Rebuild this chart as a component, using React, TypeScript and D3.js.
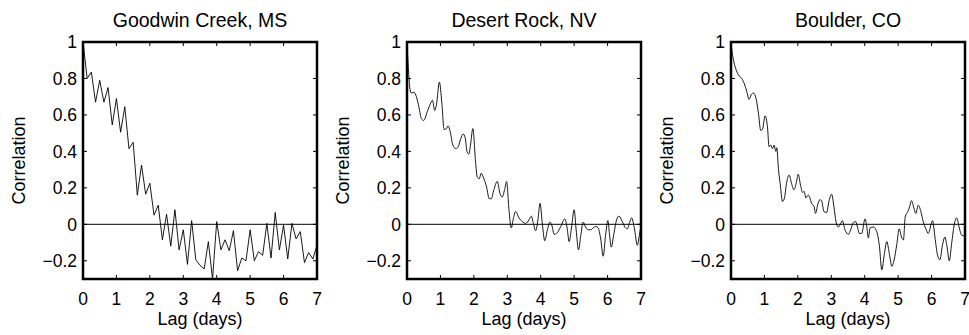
import React from 'react';
import * as d3 from 'd3';

// panel titles
const stationNames = ['Goodwin Creek, MS', 'Desert Rock, NV', 'Boulder, CO'];

// axis ticks
const lagTicks = [0, 1, 2, 3, 4, 5, 6, 7];
const corrTicks = [-0.2, 0, 0.2, 0.4, 0.6, 0.8, 1];
const corrTickLabels = ['\u22120.2', '0', '0.2', '0.4', '0.6', '0.8', '1'];

// [lag (days), correlation]
const goodwinCorr = [
  [0, 1.0], [0.125, 0.8], [0.25, 0.835], [0.375, 0.67], [0.5, 0.79], [0.625, 0.67],
  [0.75, 0.75], [0.875, 0.545], [1.0, 0.69], [1.125, 0.505], [1.25, 0.645], [1.375, 0.415],
  [1.5, 0.45], [1.625, 0.16], [1.75, 0.325], [1.875, 0.165], [2.0, 0.225], [2.125, 0.05],
  [2.25, 0.105], [2.375, -0.085], [2.5, 0.055], [2.625, -0.12], [2.75, 0.08], [2.875, -0.14],
  [3.0, -0.03], [3.125, -0.22], [3.25, 0.02], [3.375, -0.195], [3.5, -0.225], [3.625, -0.245],
  [3.75, -0.095], [3.875, -0.3], [4.0, 0.015], [4.125, -0.14], [4.25, -0.085], [4.375, -0.145],
  [4.5, -0.035], [4.625, -0.255], [4.75, -0.185], [4.875, -0.2], [5.0, -0.03], [5.125, -0.2],
  [5.25, -0.15], [5.375, -0.17], [5.5, 0.005], [5.625, -0.185], [5.75, 0.065], [5.875, -0.14],
  [6.0, -0.005], [6.125, -0.19], [6.25, 0.005], [6.375, -0.08], [6.5, -0.04], [6.625, -0.21],
  [6.75, -0.155], [6.875, -0.19], [7.0, -0.115],
];

const desertRockCorr = [
  [0, 1.0], [0.04, 0.86], [0.09, 0.74], [0.13, 0.72], [0.21, 0.725], [0.28, 0.7],
  [0.36, 0.64], [0.43, 0.58], [0.5, 0.57], [0.61, 0.62], [0.71, 0.665], [0.76, 0.68],
  [0.83, 0.625], [0.88, 0.655], [0.97, 0.78], [1.04, 0.67], [1.11, 0.52], [1.18, 0.525],
  [1.23, 0.54], [1.29, 0.51], [1.37, 0.435], [1.46, 0.415], [1.53, 0.425], [1.61, 0.47],
  [1.68, 0.495], [1.74, 0.475], [1.8, 0.395], [1.85, 0.385], [1.9, 0.435], [1.97, 0.525],
  [2.05, 0.345], [2.1, 0.26], [2.16, 0.25], [2.22, 0.28], [2.3, 0.25], [2.38, 0.205],
  [2.46, 0.14], [2.52, 0.14], [2.6, 0.19], [2.7, 0.235], [2.78, 0.17], [2.85, 0.15],
  [2.92, 0.19], [2.98, 0.235], [3.05, 0.08], [3.12, -0.02], [3.18, 0.03], [3.25, 0.07],
  [3.35, 0.035], [3.45, 0.015], [3.55, 0.005], [3.65, 0.025], [3.72, 0.045], [3.78, 0.005],
  [3.85, -0.035], [3.92, 0.03], [3.98, 0.115], [4.05, 0.0], [4.12, -0.09], [4.2, -0.03],
  [4.27, 0.012], [4.34, -0.01], [4.4, -0.055], [4.5, -0.045], [4.6, -0.012], [4.72, 0.03],
  [4.79, -0.02], [4.85, -0.095], [4.92, -0.02], [5.0, 0.08], [5.06, -0.03], [5.13, -0.14],
  [5.2, -0.06], [5.27, 0.012], [5.34, -0.015], [5.42, -0.03], [5.5, -0.03], [5.57, -0.02],
  [5.64, -0.012], [5.72, -0.02], [5.79, -0.075], [5.87, -0.175], [5.94, -0.06], [6.01, 0.02],
  [6.06, -0.06], [6.11, -0.125], [6.19, -0.05], [6.27, 0.025], [6.34, 0.045], [6.44, 0.015],
  [6.52, -0.015], [6.59, -0.025], [6.66, 0.01], [6.72, 0.035], [6.8, -0.02], [6.89, -0.115],
  [6.95, -0.06], [7.0, -0.01],
];

const boulderCorr = [
  [0, 1.0], [0.03, 0.95], [0.07, 0.905], [0.14, 0.855], [0.22, 0.82], [0.32, 0.8],
  [0.4, 0.77], [0.47, 0.73], [0.54, 0.685], [0.6, 0.71], [0.67, 0.72], [0.75, 0.69],
  [0.82, 0.61], [0.89, 0.515], [0.94, 0.52], [1.02, 0.595], [1.09, 0.535], [1.14, 0.425],
  [1.19, 0.435], [1.24, 0.415], [1.29, 0.435], [1.34, 0.4], [1.37, 0.42], [1.42, 0.3],
  [1.47, 0.225], [1.54, 0.125], [1.6, 0.145], [1.66, 0.225], [1.74, 0.27], [1.81, 0.225],
  [1.88, 0.19], [1.95, 0.225], [2.01, 0.275], [2.08, 0.215], [2.14, 0.175], [2.19, 0.18],
  [2.24, 0.145], [2.31, 0.16], [2.36, 0.145], [2.41, 0.115], [2.48, 0.1], [2.53, 0.06],
  [2.59, 0.105], [2.66, 0.135], [2.71, 0.13], [2.78, 0.07], [2.86, 0.065], [2.94, 0.135],
  [3.01, 0.165], [3.08, 0.095], [3.14, 0.015], [3.21, -0.015], [3.27, 0.0], [3.33, 0.02],
  [3.41, -0.03], [3.51, -0.055], [3.58, -0.03], [3.66, 0.01], [3.73, 0.015], [3.79, -0.02],
  [3.84, -0.05], [3.91, -0.05], [4.01, 0.03], [4.06, -0.01], [4.11, -0.075], [4.16, -0.02],
  [4.26, -0.015], [4.36, -0.04], [4.44, -0.12], [4.51, -0.25], [4.59, -0.16], [4.66, -0.095],
  [4.74, -0.165], [4.81, -0.23], [4.88, -0.195], [4.96, -0.11], [5.03, -0.025], [5.11, -0.075],
  [5.16, -0.085], [5.21, 0.04], [5.29, 0.07], [5.34, 0.095], [5.4, 0.13], [5.47, 0.09],
  [5.53, 0.06], [5.6, 0.105], [5.68, 0.07], [5.75, 0.015], [5.83, -0.025], [5.9, -0.05],
  [6.03, 0.02], [6.1, -0.07], [6.18, -0.17], [6.25, -0.195], [6.32, -0.12], [6.4, -0.07],
  [6.46, -0.12], [6.53, -0.2], [6.6, -0.105], [6.68, 0.0], [6.75, 0.035], [6.83, -0.02],
  [6.9, -0.06], [7.0, -0.065],
];

const FONT = '"Liberation Sans", Arial, Helvetica, sans-serif';
const plotTop = 42;
const plotBottom = 279;
const plotWidth = 234;
const tickLen = 4;

const Panel = ({ idx, title, points, left, smooth }) => {
  const right = left + plotWidth;
  const x = d3.scaleLinear().domain([0, 7]).range([left, right]);
  const y = d3.scaleLinear().domain([-0.3, 1]).range([plotBottom, plotTop]);

  const line = d3.line()
    .x(d => x(d[0]))
    .y(d => y(d[1]))
    .curve(smooth ? d3.curveMonotoneX : d3.curveLinear);

  const clipId = `clip-${idx}`;

  return (
    <g>
      <defs>
        <clipPath id={clipId}>
          <rect x={left} y={plotTop} width={plotWidth} height={plotBottom - plotTop} />
        </clipPath>
      </defs>

      {/* title */}
      <text x={(left + right) / 2} y={27} textAnchor="middle" fontSize={19.5} fill="#000">{title}</text>

      {/* zero line */}
      <line x1={left} x2={right} y1={y(0)} y2={y(0)} stroke="#000" strokeWidth={1} />

      {/* series */}
      <path d={line(points)} fill="none" stroke="#000" strokeWidth={0.9} clipPath={`url(#${clipId})`} />

      {/* x ticks, inward top and bottom */}
      {lagTicks.map(t => (
        <g key={`xt-${t}`}>
          <line x1={x(t)} x2={x(t)} y1={plotBottom} y2={plotBottom - tickLen} stroke="#000" strokeWidth={1} />
          <line x1={x(t)} x2={x(t)} y1={plotTop} y2={plotTop + tickLen} stroke="#000" strokeWidth={1} />
          <text x={x(t)} y={305} textAnchor="middle" fontSize={17.5} fill="#000">{t}</text>
        </g>
      ))}

      {/* y ticks, inward left and right */}
      {corrTicks.map((t, i) => (
        <g key={`yt-${i}`}>
          <line x1={left} x2={left + tickLen} y1={y(t)} y2={y(t)} stroke="#000" strokeWidth={1} />
          <line x1={right} x2={right - tickLen} y1={y(t)} y2={y(t)} stroke="#000" strokeWidth={1} />
          <text x={left - 6} y={y(t)} dy="0.36em" textAnchor="end" fontSize={17.5} fill="#000">{corrTickLabels[i]}</text>
        </g>
      ))}

      {/* frame */}
      <rect x={left} y={plotTop} width={plotWidth} height={plotBottom - plotTop} fill="none" stroke="#000" strokeWidth={2.5} />

      {/* axis labels */}
      <text x={(left + right) / 2} y={325} textAnchor="middle" fontSize={18} fill="#000">Lag (days)</text>
      <text
        transform={`translate(${left - 58},${(plotTop + plotBottom) / 2}) rotate(-90)`}
        textAnchor="middle"
        fontSize={18}
        fill="#000"
      >
        Correlation
      </text>
    </g>
  );
};

const App = () => {
  const series = [goodwinCorr, desertRockCorr, boulderCorr];
  const lefts = [83, 407, 731];
  return (
    <svg
      width={969}
      height={335}
      style={{ position: 'absolute', left: 0, top: 0, background: '#fff' }}
      fontFamily={FONT}
    >
      <rect width={969} height={335} fill="#fff" />
      {stationNames.map((name, i) => (
        <Panel key={name} idx={i} title={name} points={series[i]} left={lefts[i]} smooth={i > 0} />
      ))}
    </svg>
  );
};

export default App;
